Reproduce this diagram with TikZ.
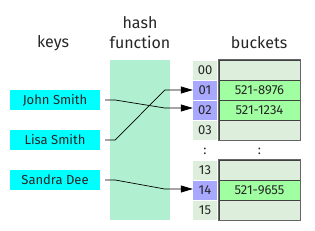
\documentclass[tikz,border=0pt]{standalone}
\usepackage{fontspec}
\setmainfont{Fira Sans}
\usetikzlibrary{arrows.meta,positioning}
\definecolor{keycyan}{HTML}{00FFFF}
\definecolor{hashmint}{HTML}{B0F0D0}
\definecolor{slotgray}{HTML}{DDEEDD}
\definecolor{slotblue}{HTML}{A8A8FF}
\definecolor{slotgreen}{HTML}{A0FFA0}

\begin{document}
\begin{tikzpicture}[x=1pt,y=-1pt,>={Triangle[length=12pt,width=7pt]},
  every node/.style={text=black!85},
  head/.style={font=\fontsize{16}{20}\selectfont,align=center},
  key/.style={fill=keycyan,minimum width=90pt,minimum height=20pt,inner sep=0pt,font=\fontsize{13}{14}\selectfont},
  idx/.style={minimum width=24pt,minimum height=19pt,inner sep=0pt,font=\fontsize{13}{14}\selectfont},
  bucket/.style={draw=black!75,line width=0.7pt,minimum width=81pt,minimum height=20pt,inner sep=0pt,font=\fontsize{13}{14}\selectfont},
  frame/.style={draw=black!60,line width=1.2pt},
  link/.style={->,line width=0.7pt}]
\useasboundingbox (0,0) rectangle (315,230);
% headings
\node[head] (hkeys) at (53,43) {keys};
\node[head] (hhash) at (140,33) {hash\\function};
\node[head] (hbuck) at (259,43) {buckets};
% hash function band
\node[fill=hashmint,minimum width=60pt,minimum height=160pt,inner sep=0pt] (hash) at (140,140) {};
% keys
\node[key] (john) at (55,100) {John Smith};
\node[key] (lisa) at (55,140) {Lisa Smith};
\node[key] (sandra) at (55,180) {Sandra Dee};
% slots and buckets
\foreach \n/\y/\c in {00/70/slotgray,01/90/slotblue,02/110/slotblue,03/130/slotgray,13/170/slotgray,14/190/slotblue,15/210/slotgray}
  \node[idx,fill=\c] (i\n) at (205,\y) {\n};
\foreach \n/\y/\c/\t in {00/70/slotgray/{},01/90/slotgreen/521-8976,02/110/slotgreen/521-1234,03/130/slotgray/{},13/170/slotgray/{},14/190/slotgreen/521-9655,15/210/slotgray/{}}
  \node[bucket,fill=\c] (b\n) at (259.5,\y) {\t};
\draw[frame] (b00.north west) rectangle (b03.south east);
\draw[frame] (b13.north west) rectangle (b15.south east);
\node[idx] (idots) at (205,151) {:};
\node[idx] (bdots) at (259.5,151) {:};
% connectors
\draw[link] ([xshift=5pt]john.east) -- ++(10,0) -- ([xshift=-28pt,yshift=2pt]i02.west) -- ([yshift=2pt]i02.west);
\draw[link] ([xshift=5pt]lisa.east) -- ++(10,0) -- ([xshift=-28pt]i01.west) -- (i01.west);
\draw[link] ([xshift=5pt]sandra.east) -- ++(10,0) -- ([xshift=-28pt,yshift=1pt]i14.west) -- ([yshift=1pt]i14.west);
\end{tikzpicture}
\end{document}
